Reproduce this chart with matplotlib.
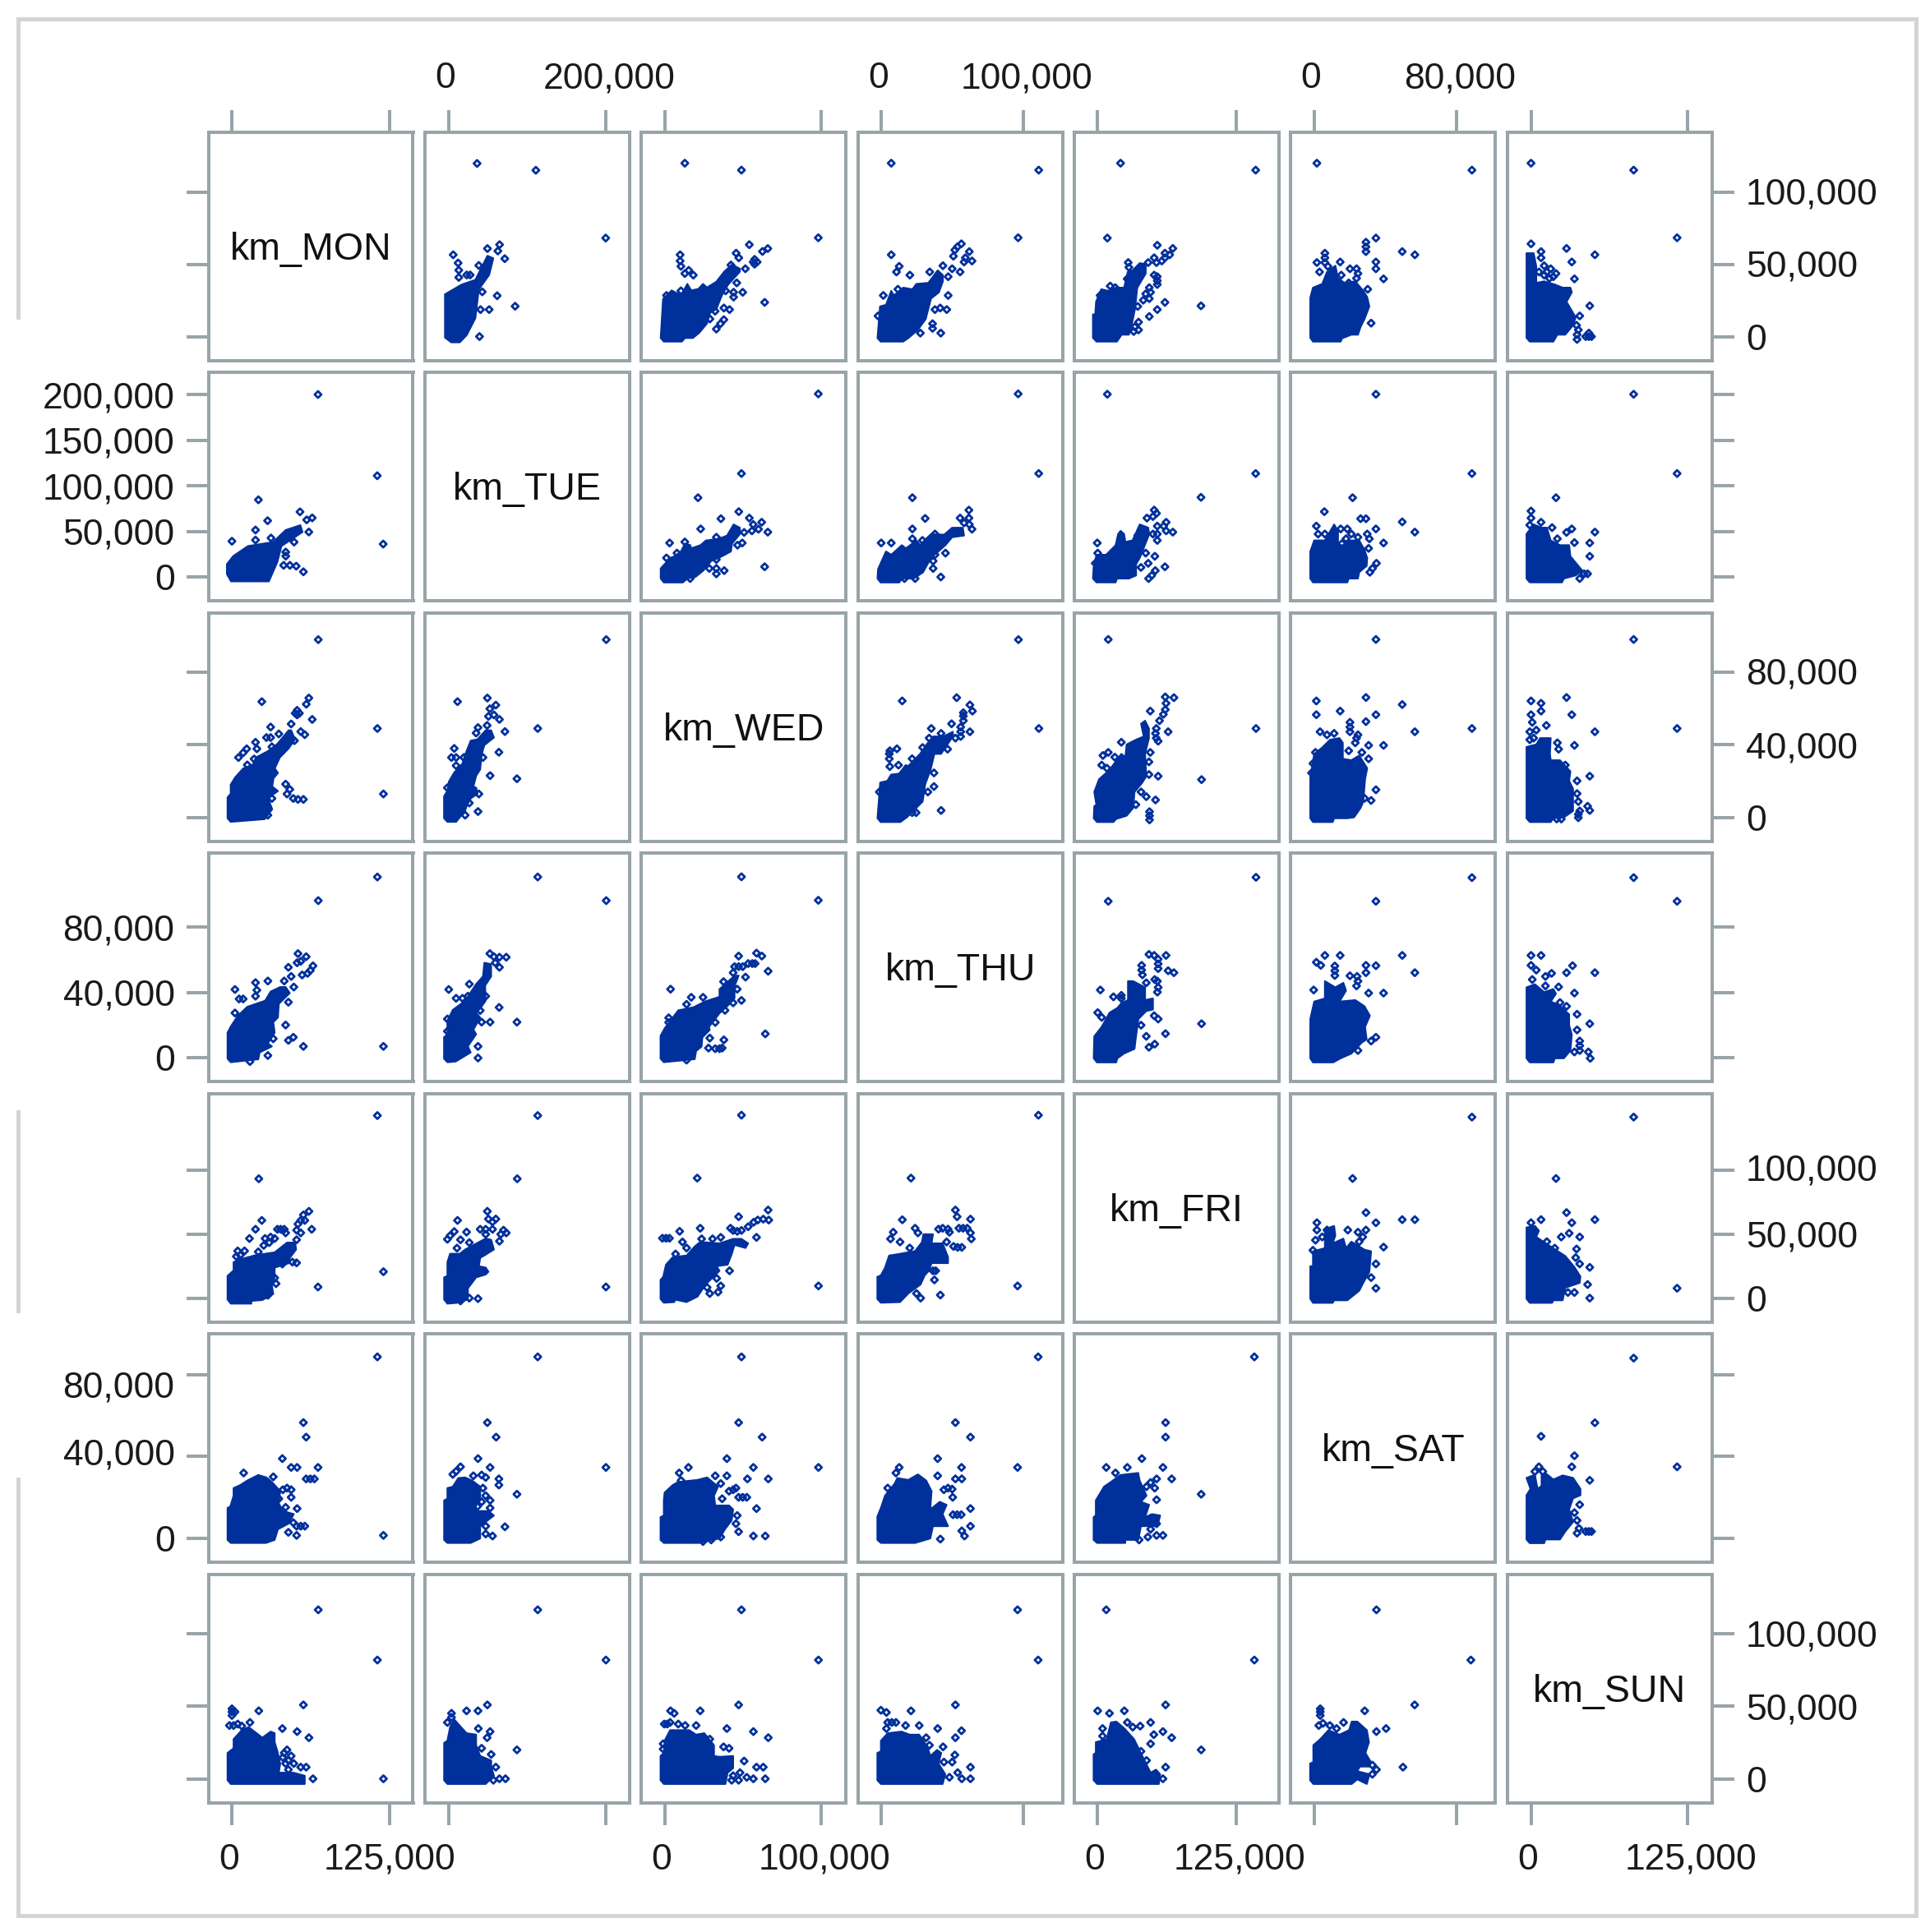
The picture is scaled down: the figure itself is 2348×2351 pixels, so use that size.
import numpy as np
import matplotlib
matplotlib.use('Agg')
import matplotlib.pyplot as plt
from matplotlib.lines import Line2D
from matplotlib.transforms import ScaledTranslation

plt.rcParams['font.family'] = ['Liberation Sans', 'DejaVu Sans']

days = ['MON', 'TUE', 'WED', 'THU', 'FRI', 'SAT', 'SUN']

# axis ticks per variable
x_ticks = {'MON': [0, 125000], 'TUE': [0, 200000], 'WED': [0, 100000], 'THU': [0, 100000],
           'FRI': [0, 125000], 'SAT': [0, 80000], 'SUN': [0, 125000]}
y_ticks = {'MON': [0, 50000, 100000], 'TUE': [0, 50000, 100000, 150000, 200000],
           'WED': [0, 40000, 80000], 'THU': [0, 40000, 80000], 'FRI': [0, 50000, 100000],
           'SAT': [0, 40000, 80000], 'SUN': [0, 50000, 100000]}

# all values below in thousands of km as (column var, row var)
# blob = outline of the solid cluster, pts = the separate markers
tue_mon_blob = [(-4,3.1),(-0.7,-4.8),(29.3,-4.8),(36,16.3),(39.3,33.9),(56,49.3),(54.3,56.8),(42.7,51.5),(32.7,38.3),(12.7,33.9),(1,22.9),(-4,14.1)]
tue_mon_pts = [(68.3,200),(115.3,111),(21,84.6),(120,36.1),(54,71.4),(63.7,64.8),(59.3,62.6),(28.3,61.7),(18.7,51.5),(18.7,40.5),(0,39.2),(31,42.7),(61,49.3),(49.3,38.3),(42.7,27.3),(42.7,22.9),(46,12.8),(41,12.8),(51,11.9),(56.7,5.7)]

wed_mon_blob = [(-3.5,-0.5),(-1,-2.5),(26,-1),(32,4.5),(28.5,10.5),(36.5,14.5),(32,17),(33,21.5),(36.5,24.5),(34,27),(38,33),(45,38),(50,43),(47,48),(45,48),(36,40.5),(28.5,36.5),(19,33),(16.5,29),(9,27),(2.5,22),(-1,18),(-1,13),(-3.5,11)]
wed_mon_pts = [(68.5,98),(23.7,63.8),(61,65.8),(59,62.4),(51.7,59),(51.7,56.5),(50.2,57.4),(53.5,57.4),(63.7,54),(115.4,49),(47,51.5),(30.7,49.8),(54.6,47.3),(57.8,45.6),(37.2,46),(30.7,44),(27.4,44),(18.7,41.4),(19.8,37.8),(11.7,37.8),(8.9,35.6),(5.2,33),(17.6,32.2),(12.2,28.9),(31.7,38.9),(49.6,42.3),(42.6,18.3),(45.9,15.4),(43.7,12.9),(48.7,10.4),(52.4,9.9),(56.7,9.9),(31.7,10.4),(28.5,1.2),(120.2,12.9)]

wed_tue_blob = [(-6,-0.5),(-1.7,-2.5),(9.4,-2.5),(21,3.7),(22.7,6.2),(28,10.4),(36.6,13),(35,16.3),(31.4,17),(35,23),(40,26.3),(42,34.7),(45.4,39.8),(57.6,44),(54,48),(47,48),(36.6,43),(28,42.3),(21,34.7),(17.5,29.7),(7,24.7),(0,19.6),(-1.7,14.6),(-6,11.6)]
wed_tue_pts = [(200.7,98),(11.2,63.8),(49.2,65.8),(60,61.9),(52.4,59.9),(57.6,56.5),(50.6,55.7),(64.6,54),(48.9,50.7),(37.3,49.5),(113.4,49),(71.6,47.3),(34.9,46.5),(7,38),(9.4,33),(3.5,33),(19.2,33),(9.4,28.5),(63.9,35.9),(43.6,33),(52.7,23),(86.9,21.3),(38.4,12.9),(26.2,7.9),(20.9,1.2),(37.3,3.2),(-1.7,16.3)]

thu_mon_blob = [(-3.5,-0.6),(-1,-2.8),(20.9,-1),(22,3.2),(31.7,6.9),(28.5,8.8),(33.9,15.3),(32.8,21.8),(36.5,24.6),(37.2,33),(45.9,39.6),(42.6,43.3),(38.3,43.3),(30.7,40.5),(26.3,34.9),(12.2,31.2),(4.6,25.6),(-1,19),(-3.5,15.3)]
thu_mon_pts = [(115.4,110.8),(68.5,96.3),(52.4,63.8),(58.9,61.9),(51.7,58.2),(54.6,59.1),(44.8,55.4),(47,49.8),(64.3,56.3),(62.2,53.5),(55.7,50.7),(60,51.7),(28.5,47),(18.7,46),(19.8,41.4),(2.4,41.8),(8.9,36),(5.7,36),(18.7,37.7),(41.5,47),(49.1,43.3),(44.8,34),(2.4,27.4),(42.6,20),(48.7,12.5),(44.8,10.6),(32.8,11.6),(56.7,6.9),(120.2,6.9),(28.5,1.3),(14.3,-2.4)]

thu_tue_blob = [(-6,-0.6),(-1.7,-2.8),(8.7,-2.4),(28,3.2),(24.4,6.9),(34.9,14.4),(31.4,17.2),(40.1,24.6),(34.9,27.4),(40.1,30.2),(47,34.9),(46.4,44.2),(54,49.8),(54,57.3),(45.4,58.2),(43.6,49.8),(34.9,45.1),(20.9,34.9),(5.2,29.3),(-1.7,22.8),(-1.7,14.4),(-6,12.5)]
thu_tue_pts = [(113.4,110.8),(200.7,96.3),(52.4,63.8),(57.6,61.9),(73.3,61.6),(64.6,61.6),(59.3,58.2),(64.6,55.4),(26.2,45.1),(0,41.8),(9.4,36.4),(17.5,36.4),(24.4,37.7),(47.1,37.7),(64.2,30.8),(40.1,28.9),(41.9,21.8),(52.7,21.8),(86.9,21.8),(-1.7,23.7),(-1.7,16.2),(37.3,6.9),(37.3,-0.2)]

thu_wed_blob = [(-2.6,-0.6),(-0.5,-2.8),(19.2,-0.9),(20.1,4.1),(23.6,6.8),(24.1,12.4),(28.8,17),(28.3,18.9),(35,27.2),(40.2,31.8),(44.6,36.4),(44.6,43.8),(47.2,50.3),(44.6,50.3),(35,42),(35,37.3),(26.2,34.6),(18.4,30.9),(8.7,29),(0,17.9),(-2.6,13.3)]
thu_wed_pts = [(49,110.9),(98,96.5),(47.2,62.3),(58.6,64.1),(62,62.3),(55.9,57.7),(53.3,57.7),(57.7,57.7),(47.2,55.8),(44.6,55.8),(49.8,55.8),(66,53),(51.6,49.4),(43.7,52.1),(37.6,46.6),(3.8,42),(46.3,42),(49,35.1),(43.7,33.6),(17,37),(24.5,37),(14,32.7),(38.5,29),(32.3,21.6),(2.6,24.4),(2.6,21.6),(64.2,14.6),(37.8,10.9),(28.8,12),(28,5.9),(35,5.5),(32.3,5.5),(36.7,5.9),(14,-1.5)]

fri_wed_blob = [(-2.6,-0.7),(-0.5,-3.6),(6.1,-3.1),(7,-1.2),(14,-3.1),(21,1.2),(26.2,10.7),(35,21.3),(33.2,24.9),(40.2,26.1),(42.8,34.4),(44.6,41.5),(51.6,39.1),(53.3,42.7),(49,46.2),(43.7,46.2),(35,42.7),(22.7,43.8),(19.2,40.3),(14,33.2),(5.2,32),(0.9,26.1),(-0.9,16.6),(-2.6,14.2)]
fri_wed_pts = [(49,142.7),(20.8,93.6),(66,68.7),(47.2,63.5),(62.9,61.6),(59.4,60.9),(66.4,60.9),(56.8,59.2),(53.3,55.7),(58.6,47.4),(42,54.5),(46.3,52.1),(43.7,52.8),(49,52.8),(0.9,46.7),(-1.4,46.7),(3.1,46.7),(9.6,52.1),(11.4,43.8),(22.7,54.5),(23.6,46.2),(30.6,46.2),(35.8,47.4),(14,39.1),(7,34.4),(13.1,28.4),(41.4,21.3),(33.2,15.4),(27.1,8.3),(35.8,9.5),(34.1,4.7),(28.8,3.6),(98.1,9.5)]

fri_thu_blob = [(-2.9,-0.7),(-0.4,-3.6),(13.1,-3.1),(18.9,3.6),(27.6,10.7),(30.5,17.8),(33.4,21.3),(35.3,27.3),(46.9,27.3),(46.9,32),(43.1,42.7),(35.3,42.7),(36.3,49.8),(29.5,49.8),(28.6,43.8),(23.7,36.7),(12.2,34.4),(5.4,33.2),(2.5,23.7),(-0.4,17.8),(-2.9,16.6)]
fri_thu_pts = [(110.6,142.7),(20.8,93.6),(52.1,68.7),(53.3,63.5),(62.7,61.6),(57.5,54.5),(54.6,54.5),(60.4,54.5),(14.7,61.1),(23.7,54.5),(25.7,50.9),(43.1,54.5),(46.9,53.8),(40.2,53.8),(47.9,51.4),(62.7,50.9),(63.3,46.2),(8.3,51.4),(6.4,46.2),(13.1,43.8),(45.9,43.8),(53.7,39.6),(50.8,40.3),(56.6,39.6),(38.2,21.3),(36.3,21.3),(37.3,14.2),(24.7,3.6),(27.6,0),(41.5,2.4),(95.9,9.5),(19.9,39.1)]

fri_mon_blob = [(-3.5,-1.1),(-0.9,-4.3),(15.4,-4.3),(15.4,-2.2),(24.1,-1.5),(32.8,3.2),(31.7,9.7),(33.9,16.2),(33.9,23.8),(44.8,27.1),(45.9,31.4),(50.9,37.9),(50.2,43.3),(43.7,43.3),(33.9,35.7),(18.7,33.5),(6.7,30.3),(1.3,28.1),(1.3,21.6),(-3.5,17.3)]
fri_mon_pts = [(115.4,142.4),(21.3,93.1),(61.1,67.7),(56.7,64.9),(54.6,60.6),(57.8,60.6),(52.4,57.8),(23.7,60.6),(18.7,53.7),(13.9,46.5),(38.7,53.7),(36.1,53.7),(41.5,53.7),(42.6,50.9),(30.7,47.6),(26.3,46.5),(29.6,43.3),(33.9,46.5),(25.2,41.1),(54.6,50.9),(51.3,53),(63.3,53.7),(51.3,45.5),(4.6,36.8),(10,36.8),(3.5,32.5),(6.7,33.5),(20.9,36.1),(48,28.1),(51.3,27.5),(40,26.6),(6.7,23.8),(33.9,15.8),(35,11.3),(68.3,8.7),(120.2,20.6),(28.5,2.2)]

fri_tue_blob = [(-5.9,-1.1),(-1.7,-4.3),(10.5,-3.7),(24.4,-1.1),(24.4,7.6),(34.9,16.2),(47.1,18.4),(50.6,20.6),(47.1,23.8),(38.4,24.9),(40.1,31.4),(57.6,37.9),(54.1,45.5),(47.1,46.5),(20.9,37.9),(14,34.6),(1.7,34.6),(-1.7,28.1),(-1.7,17.3),(-5.9,16.2)]
fri_tue_pts = [(113.4,142.4),(87.3,93.1),(49.2,67.7),(60,61.7),(50.6,61.7),(55.8,59.5),(11.2,60.6),(40.1,53.7),(47.1,53.7),(55.8,53.7),(69.8,53),(73.3,50.9),(66.3,49.8),(64.6,44.4),(7,51.9),(1.7,48.7),(-1.7,45.9),(22.7,51.5),(15,45.5),(26.2,43.3),(47.1,49.8),(45.4,36.1),(10.5,39),(26.2,0),(37.3,-0.4),(200.3,8.7),(15,-2.2)]

sat_mon_blob = [(-3.5,-0.7),(-0.9,-2.2),(27,-2.2),(33.9,-0.7),(36.5,4.5),(44.8,7.2),(49.1,11.9),(40.4,13.4),(37.2,17.1),(38.3,23.1),(31.7,27.6),(27.4,29.8),(20.9,31),(12.2,28.3),(6.7,26.1),(1.3,24.6),(1.3,20.9),(-1.3,15.6),(-3.5,14.9)]
sat_mon_pts = [(115.4,88.7),(56.7,56.6),(58.9,49.5),(40,39),(47,34.7),(51.7,34.7),(68.3,34.7),(9.3,32),(32.8,30.1),(62.2,29.1),(58.9,29.1),(65.4,29.1),(43.7,24.6),(40.4,23.8),(47,23.8),(37.2,19.4),(47,20.1),(42.6,15.2),(51.7,14.6),(48.7,7.7),(54.6,6),(51.3,6),(57.8,6),(44.8,3),(51.3,1.5),(120.2,1.5)]

sat_tue_blob = [(-5.9,-0.7),(-1.7,-2.2),(27.9,-2.2),(40.1,0),(40.1,6),(57.6,11.2),(50.6,13.4),(34.9,13.4),(34.9,16.4),(40.1,18.6),(40.1,25.3),(29.7,28.3),(20.9,29.8),(12.2,29.5),(5.2,25.3),(-1.7,24.6),(-1.7,19.4),(-5.9,18.6)]
sat_tue_pts = [(113.4,88.7),(49.2,56.6),(60.4,49.5),(37.3,39),(52.7,34.7),(200.3,34.7),(15,35),(9.4,32.8),(5.2,31.3),(31.4,30.6),(41.9,31),(47.1,29.8),(63.9,29.1),(63.9,26.1),(86.9,21.6),(43.6,24.6),(47.1,20.9),(52.7,18.6),(36.6,15.6),(52.7,14.9),(71.6,5.7),(47.1,6),(55.8,1.2),(47.1,2.2),(41.9,17.9)]

sun_mon_blob = [(-3.5,-1),(-0.9,-3.6),(57.8,-3.6),(57.8,2.1),(48.7,4.2),(37.2,4.2),(38.3,10.5),(36.1,18.9),(33.9,25.2),(33.9,31.4),(30.7,32.5),(24.1,28.3),(13.3,35.6),(7.8,33.5),(1.3,27.3),(1.3,21),(-3.5,17.8)]
sun_mon_pts = [(68.5,116.4),(115.4,81.8),(56.7,50.9),(0,46.1),(0,48.2),(0,43.6),(2.4,46.1),(21.3,46.8),(4.6,37.7),(1.3,36.7),(7.8,36.3),(-2,36.7),(14.3,38.8),(40,34.6),(51.7,32.5),(61.1,28.3),(43.7,19.9),(41.5,17.8),(47,15.7),(49.1,10.5),(54.6,8),(58.9,8),(44.8,6.3),(64.3,0),(120.2,0),(40.4,14.7),(42.6,10.5),(44.8,12.6)]

sun_tue_blob = [(-5.9,-1),(-1.7,-3.6),(47.1,-3.6),(57.6,2.1),(54.1,8.4),(54.1,12.6),(40.1,15.7),(34.9,23.1),(34.9,30.4),(22.7,31.4),(12.2,37.7),(7,40.9),(1.7,35.6),(-1.7,26.2),(-5.9,24.7)]
sun_tue_pts = [(113.4,116.4),(200.3,81.8),(49.2,50.9),(37.3,46.8),(22.7,46.8),(3.5,45.1),(3.5,42.3),(-1.7,38.8),(37.7,34.6),(52.7,32.5),(48.9,28.3),(86.9,19.9),(41.9,21),(54.1,16.8),(60,8),(64.6,0),(72.3,0),(56.9,-1)]

sat_wed_blob = [(-2.6,-0.7),(-0.5,-2.2),(21.9,-2.2),(35,0),(38.5,4.5),(42.8,8.9),(43.7,14.2),(41.1,16.1),(32.3,16.1),(31.5,20.9),(34.1,25.3),(27.1,29.8),(21,28.6),(8.7,27.6),(5.2,26.1),(0,22.4),(-0.5,18.6),(-0.5,11.2),(-2.6,10.4)]
sat_wed_pts = [(49,88.7),(47.2,56.6),(62.2,49.5),(39.7,39),(15.2,34.7),(56.6,34.7),(98.1,34.7),(9.3,32),(32.3,30.6),(39.7,30.6),(52.8,29.1),(66.1,29.1),(10.5,28.3),(35.8,26.8),(43.7,23.8),(41.1,23.1),(45.5,24.6),(49.8,20.1),(47.2,20.1),(52.4,20.1),(36.7,19.4),(58.6,14.6),(46.3,11.2),(45.5,7.2),(47.2,3.3),(56.6,1.2),(64.2,1.2),(35.8,0.7),(29.7,-0.7),(24.5,-1.5)]

sat_thu_blob = [(-2.9,-0.7),(-0.4,-2.2),(23.7,-2.2),(34.4,0),(36.3,6),(46.9,6),(43.1,11.9),(45.9,16.4),(41.1,17.9),(34.4,14.2),(35.3,23.1),(31.5,28.3),(25.7,31.3),(18.9,28.6),(11.2,29.5),(9.3,26.8),(2.5,20.9),(-0.4,14.9),(-2.9,10.7)]
sat_thu_pts = [(110.4,88.7),(52.1,56.6),(62.7,49.5),(39.6,39),(12.5,34.7),(56.4,34.7),(95.9,34.7),(10.2,32),(39.6,30.6),(52.1,29.1),(56.6,29.1),(46.9,24.6),(44,23.8),(49.8,24.1),(50.2,20.1),(62.7,14.6),(53.3,11.6),(50.4,11.6),(56.2,11.6),(62.7,6),(56.6,3.7),(58.5,1.2),(41.5,-0.3),(4.4,24.6)]

sun_wed_blob = [(-2.6,-1),(-0.5,-3.6),(38.8,-3.6),(40.2,4.2),(43.7,7.3),(43.7,15.7),(35,15.1),(31.5,15.7),(31.5,23.1),(25.3,31.4),(20.1,30.4),(15.7,33.5),(3.5,33.5),(0,26.2),(-0.5,17.8),(-2.6,15.7)]
sun_wed_pts = [(49,116.4),(98.1,81.8),(47.2,50.9),(3.8,46.8),(22.7,46.8),(6.1,45.1),(1.7,37.7),(-0.2,37.7),(3.5,38.8),(8.7,37.7),(13.1,36.7),(20.1,36.7),(39.7,34.6),(56.6,32.5),(66.1,28.3),(28.8,27.3),(37.6,22),(41.1,21),(-0.9,24.1),(-0.9,20.5),(50.7,12.2),(58.6,8),(62.9,8),(48.1,4.2),(43.7,2.1),(52.4,1),(56.6,0),(64.2,0),(42.8,-1),(47.2,-1)]

sun_thu_blob = [(-2.9,-1),(-0.4,-3.6),(43.1,-3.6),(45,3.1),(40.2,10.5),(42.1,17.8),(39.2,19.9),(34.4,15.7),(32.4,22),(26.6,30.4),(19.9,30.4),(14.1,32.5),(4.4,31.4),(-0.4,26.2),(-0.4,18.9),(-2.9,17.8)]
sun_thu_pts = [(95.9,116.4),(110.4,81.8),(52.1,50.9),(-0.4,47.2),(3.5,45.7),(20.8,46.8),(4.4,38.8),(7.3,38.8),(3.5,34.6),(10.2,38.8),(17,36.7),(26.6,36.7),(39.6,34.6),(56.4,33.1),(52.1,28.3),(31.5,28.3),(33.8,23.1),(43.4,22),(51.7,16.4),(49.8,11.5),(44,11.5),(62.7,8),(53.7,4.2),(56.6,0),(62.7,0),(47.9,1)]

sat_fri_blob = [(-3.7,-0.7),(-0.5,-2.2),(24.9,-2.2),(24.9,-0.7),(36.5,-0.7),(39,6),(53.8,6),(56.3,11.2),(48.9,11.9),(42.7,10.4),(46.4,16.4),(39,17.9),(44,20.9),(37.8,28.3),(36.5,32),(20.5,31),(11.9,27.6),(5.7,25.3),(-1.7,18.6),(-1.7,11.2),(-3.7,10.4)]
sat_fri_pts = [(141.2,88.7),(61.2,56.6),(61.2,49.5),(39.8,39),(7.7,34.7),(26.7,34.7),(58.8,34.7),(16,32),(53.1,29.1),(66.7,29.1),(47.7,27.3),(44,25.3),(51.4,24.6),(93.3,21.6),(53.1,18.9),(58.8,1.5),(53.1,1.5),(45.2,0.7),(37.3,-0.7),(46.4,8.6),(53.1,7.2),(47.7,4.5)]

sun_fri_blob = [(-3.7,-1),(-0.5,-3.6),(55.1,-3.6),(56.3,3.1),(52.6,6.3),(47.7,4.2),(40.2,15.7),(32.8,27.3),(24.2,34.6),(16.8,39.4),(11.9,38.8),(8.1,27.3),(-1.7,25.2),(-1.7,17.8),(-3.7,16.8)]
sun_fri_pts = [(7.7,116.4),(141.2,81.8),(61.2,50.9),(0,46.8),(10.6,45.1),(24,46.8),(47.7,38.8),(26.7,38.8),(31.6,35.6),(38.3,36.3),(58.8,32.5),(50.6,30.4),(66.7,28.3),(4.4,34.6),(4.4,29.4),(47.7,24.1),(39,18.9),(93.3,19.9),(44,12.6),(61.2,8),(58.8,0)]

sun_sat_blob = [(-2.3,-1),(-0.5,-3.6),(21.1,-3.6),(24.2,-0.4),(29.6,-3.6),(31.1,3.1),(24.2,5.2),(25.7,8.4),(31.1,8.4),(31.9,11.5),(28.8,17.8),(30.8,25.2),(29.6,33.5),(24.2,39.4),(21.1,39.4),(19.6,33.5),(14.2,30.4),(8,33.5),(3.4,27.3),(-0.5,23.1),(-0.5,11.5),(-2.3,10.5)]
sun_sat_pts = [(35,116.4),(88.1,81.8),(56.5,50.9),(28.4,46.8),(3.4,46.1),(3.4,48.2),(3.4,43.6),(2.6,36.7),(4.9,38.2),(8.8,36.7),(12.6,34.6),(16.5,38.8),(35,32.5),(40.4,34.6),(49.9,8),(32.7,9.4),(35,6.3),(32.7,3.1)]

pairs = {
    ('TUE', 'MON'): (tue_mon_blob, tue_mon_pts),
    ('WED', 'MON'): (wed_mon_blob, wed_mon_pts),
    ('WED', 'TUE'): (wed_tue_blob, wed_tue_pts),
    ('THU', 'MON'): (thu_mon_blob, thu_mon_pts),
    ('THU', 'TUE'): (thu_tue_blob, thu_tue_pts),
    ('THU', 'WED'): (thu_wed_blob, thu_wed_pts),
    ('FRI', 'MON'): (fri_mon_blob, fri_mon_pts),
    ('FRI', 'TUE'): (fri_tue_blob, fri_tue_pts),
    ('FRI', 'WED'): (fri_wed_blob, fri_wed_pts),
    ('FRI', 'THU'): (fri_thu_blob, fri_thu_pts),
    ('SAT', 'MON'): (sat_mon_blob, sat_mon_pts),
    ('SAT', 'TUE'): (sat_tue_blob, sat_tue_pts),
    ('SAT', 'WED'): (sat_wed_blob, sat_wed_pts),
    ('SAT', 'THU'): (sat_thu_blob, sat_thu_pts),
    ('SAT', 'FRI'): (sat_fri_blob, sat_fri_pts),
    ('SUN', 'MON'): (sun_mon_blob, sun_mon_pts),
    ('SUN', 'TUE'): (sun_tue_blob, sun_tue_pts),
    ('SUN', 'WED'): (sun_wed_blob, sun_wed_pts),
    ('SUN', 'THU'): (sun_thu_blob, sun_thu_pts),
    ('SUN', 'FRI'): (sun_fri_blob, sun_fri_pts),
    ('SUN', 'SAT'): (sun_sat_blob, sun_sat_pts),
}

# axis limits, set so the ticks land where they do in the picture
x_lims = {'MON': (-18700, 143700), 'TUE': (-30400, 230400), 'WED': (-14800, 115700), 'THU': (-16600, 127600),
          'FRI': (-21000, 163500), 'SAT': (-13100, 102000), 'SUN': (-18800, 144300)}
y_lims = {'MON': (-16500, 141900), 'TUE': (-26000, 224400), 'WED': (-13100, 112900), 'THU': (-14600, 125500),
          'FRI': (-18500, 159700), 'SAT': (-11600, 100000), 'SUN': (-16400, 141000)}

# the labels in the picture do not sit quite on their ticks (pixels, + is up)
y_nudge = {('SAT', 80000): -12, ('SAT', 40000): 6, ('MON', 100000): 1.5, ('MON', 50000): 1.5,
           ('FRI', 100000): 3, ('WED', 80000): 1.5}

blue = '#00309c'
grey = '#98a4a8'
W, H = 2348, 2351
left0, top0, pitch_x, pitch_y, pw, ph = 253.5, 160.5, 263.4, 292.5, 249, 278

fig = plt.figure(figsize=(W / 100, H / 100), dpi=100, facecolor='white')

# light outer frame, the left side of it has gaps
frame_col = '#d4d4d4'
fx0, fx1, fy0, fy1 = 21.5, 2331, 22.5, 2331
frame_segs = [((fx0, fy0), (fx1, fy0)), ((fx1, fy0), (fx1, fy1)), ((fx0, fy1), (fx1, fy1)),
              ((fx0, fy0), (fx0, 386)), ((fx0, 1353), (fx0, 1595)), ((fx0, 1800), (fx0, fy1))]
for a, b in frame_segs:
    fig.add_artist(Line2D([a[0] / W, b[0] / W], [1 - a[1] / H, 1 - b[1] / H], color=frame_col, lw=3.6,
                          solid_capstyle='projecting', transform=fig.transFigure))


def shift(label, dx, dy):
    label.set_transform(label.get_transform() + ScaledTranslation(dx / 100, dy / 100, fig.dpi_scale_trans))


for r, rday in enumerate(days):
    for c, cday in enumerate(days):
        ax = fig.add_axes([(left0 + c * pitch_x) / W, 1 - (top0 + r * pitch_y + ph) / H, pw / W, ph / H])
        ax.set_xlim(x_lims[cday])
        ax.set_ylim(y_lims[rday])
        for s in ax.spines.values():
            s.set_color(grey)
            s.set_linewidth(2.9)

        if r == c:
            ax.text(0.5, 0.485, 'km_' + rday, transform=ax.transAxes, ha='center', va='center',
                    fontsize=33.5, color='#111111')
        else:
            if (rday, cday) in pairs:
                blob, pts = pairs[(rday, cday)]
                bx = [p[0] * 1000 for p in blob]
                by = [p[1] * 1000 for p in blob]
                px = [p[0] * 1000 for p in pts]
                py = [p[1] * 1000 for p in pts]
            else:
                blob, pts = pairs[(cday, rday)]
                bx = [p[1] * 1000 for p in blob]
                by = [p[0] * 1000 for p in blob]
                px = [p[1] * 1000 for p in pts]
                py = [p[0] * 1000 for p in pts]
            ax.fill(bx, by, facecolor=blue, edgecolor=blue, lw=1.5, joinstyle='round')
            ax.scatter(px, py, marker='D', s=17, facecolors='none', edgecolors=blue, linewidths=2)

        ax.set_xticks([])
        ax.set_yticks([])
        if r == 0 or r == 6:
            ax.set_xticks(x_ticks[cday])
            ax.xaxis.set_ticks_position('top' if r == 0 else 'bottom')
            show = (r == 0 and c % 2 == 1) or (r == 6 and c % 2 == 0)
            ax.set_xticklabels([f'{v:,}' if show else '' for v in x_ticks[cday]])
        if c == 0 or c == 6:
            ax.set_yticks(y_ticks[rday])
            ax.yaxis.set_ticks_position('left' if c == 0 else 'right')
            show = (c == 0 and r % 2 == 1) or (c == 6 and r % 2 == 0)
            ax.set_yticklabels([f'{v:,}' if show else '' for v in y_ticks[rday]])
        top_pad = 12.5 if r == 0 else 16
        ax.tick_params(axis='x', length=19.5, width=2.9, color=grey, labelsize=32, labelcolor='#1a1a1a', pad=top_pad)
        ax.tick_params(axis='y', length=19.5, width=2.9, color=grey, labelsize=32, labelcolor='#1a1a1a', pad=10)

        if r == 0 or r == 6:
            for v, lab in zip(x_ticks[cday], ax.get_xticklabels()):
                if v == 0:
                    shift(lab, -4, 0)
                elif c != 0:
                    shift(lab, 4, 0)
        if c == 0 or c == 6:
            for v, lab in zip(y_ticks[rday], ax.get_yticklabels()):
                if (rday, v) in y_nudge:
                    shift(lab, 0, y_nudge[(rday, v)])

plt.savefig('out.png', dpi=100, facecolor='white')
